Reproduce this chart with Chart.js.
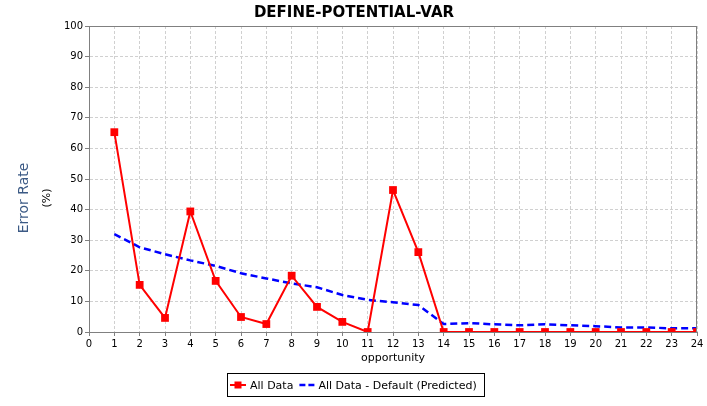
<!DOCTYPE html>
<html><head><meta charset="utf-8">
<style>html,body{margin:0;padding:0;background:#fff;}#wrap{width:707px;height:406px;position:relative;}</style>
<script src="https://cdn.jsdelivr.net/npm/chart.js@4"></script>
</head><body><div id="wrap"><canvas id="c" width="707" height="406"></canvas></div>
<script>
const chartTitle = "DEFINE-POTENTIAL-VAR";
const xTitle = "opportunity";
const yTitle = "Error Rate";
const yUnit = "(%)";
const opportunities = [1,2,3,4,5,6,7,8,9,10,11,12,13,14,15,16,17,18,19,20,21,22,23,24];
const allData = [65.3,15.4,4.6,39.4,16.7,4.9,2.6,18.4,8.2,3.3,0,46.4,26.1,0,0,0,0,0,0,0,0,0,0,0];
const predicted = [32.0,27.7,25.4,23.4,21.6,19.2,17.5,15.9,14.6,12.1,10.5,9.7,8.8,2.6,2.9,2.5,2.2,2.5,2.2,1.9,1.5,1.5,1.2,1.2];
const seriesNames = ["All Data", "All Data - Default (Predicted)"];

const FONT = "'DejaVu Sans', sans-serif";

const decor = {
  id: 'decor',
  afterDraw(chart) {
    const ctx = chart.ctx, a = chart.chartArea;
    ctx.save();
    // plot outline
    ctx.setLineDash([]);
    ctx.strokeStyle = '#808080'; ctx.lineWidth = 1;
    ctx.strokeRect(Math.round(a.left)+0.5, Math.round(a.top)+0.5, Math.round(a.right-a.left)-1, Math.round(a.bottom-a.top));
    // title
    ctx.fillStyle = '#000'; ctx.font = "bold 15px " + FONT;
    ctx.textAlign = 'center'; ctx.textBaseline = 'middle';
    ctx.fillText(chartTitle, 354, 13);
    // x axis title
    ctx.font = "11px " + FONT;
    ctx.fillText(xTitle, (a.left + a.right)/2, 358);
    // y axis titles
    ctx.save();
    ctx.translate(24, 198); ctx.rotate(-Math.PI/2);
    ctx.fillStyle = '#3c5a85'; ctx.font = "14px " + FONT;
    ctx.fillText(yTitle, 0, 0);
    ctx.restore();
    ctx.save();
    ctx.translate(47, 198); ctx.rotate(-Math.PI/2);
    ctx.fillStyle = '#000'; ctx.font = "11px " + FONT;
    ctx.fillText(yUnit, 0, 0);
    ctx.restore();
    // legend
    ctx.font = "11px " + FONT; ctx.textAlign = 'left';
    const w1 = ctx.measureText(seriesNames[0]).width;
    const w2 = ctx.measureText(seriesNames[1]).width;
    const total = 3 + 16 + 4 + w1 + 6 + 15 + 4 + w2 + 7;
    const lx = Math.round(355.5 - total/2), ly = 373, lh = 23;
    ctx.strokeStyle = '#000'; ctx.lineWidth = 1;
    ctx.strokeRect(lx+0.5, ly+0.5, Math.round(total), lh);
    const cy = ly + lh/2 + 0.5;
    let x = lx + 3;
    ctx.strokeStyle = '#ff0000'; ctx.lineWidth = 2;
    ctx.beginPath(); ctx.moveTo(x, cy); ctx.lineTo(x+16, cy); ctx.stroke();
    ctx.fillStyle = '#ff0000'; ctx.fillRect(x + 8 - 3.5, cy - 3.5, 7, 7);
    x += 16 + 4;
    ctx.fillStyle = '#000'; ctx.fillText(seriesNames[0], x, cy+1);
    x += w1 + 6;
    ctx.strokeStyle = '#0000ff'; ctx.lineWidth = 2.5; ctx.setLineDash([6,3]);
    ctx.beginPath(); ctx.moveTo(x, cy); ctx.lineTo(x+15, cy); ctx.stroke();
    ctx.setLineDash([]);
    x += 15 + 4;
    ctx.fillStyle = '#000'; ctx.fillText(seriesNames[1], x, cy+1);
    ctx.restore();
  }
};

new Chart(document.getElementById('c'), {
  type: 'line',
  data: {
    datasets: [
      {
        label: seriesNames[0],
        data: opportunities.map((o,i)=>({x:o, y:allData[i]})),
        borderColor: '#ff0000', backgroundColor: '#ff0000',
        borderWidth: 2, pointStyle: 'rect', pointRadius: 5.5, pointHoverRadius: 5.5,
        pointBorderWidth: 0, tension: 0, fill: false
      },
      {
        label: seriesNames[1],
        data: opportunities.map((o,i)=>({x:o, y:predicted[i]})),
        borderColor: '#0000ff', backgroundColor: '#0000ff',
        borderWidth: 2.5, borderDash: [7,4], pointRadius: 0, tension: 0, fill: false
      }
    ]
  },
  options: {
    responsive: false, animation: false, devicePixelRatio: 1,
    layout: { padding: { left: 0, right: 10, top: 26, bottom: 0 } },
    plugins: { legend: { display: false }, title: { display: false }, tooltip: { enabled: false } },
    scales: {
      x: {
        type: 'linear', min: 0, max: 24,
        afterFit(s) { s.height = 74; },
        ticks: { stepSize: 1, color: '#000', font: { family: FONT, size: 10 }, padding: 2, maxRotation: 0, autoSkip: false },
        grid: { color: '#d0d0d0', lineWidth: 1, drawTicks: true, tickLength: 4, tickColor: '#808080', tickBorderDash: [] },
        border: { display: true, color: '#808080', width: 1, dash: [3,2] }
      },
      y: {
        min: 0, max: 100,
        afterFit(s) { s.width = 89; },
        ticks: { stepSize: 10, color: '#000', font: { family: FONT, size: 10 }, padding: 2 },
        grid: { color: '#d0d0d0', lineWidth: 1, drawTicks: true, tickLength: 4, tickColor: '#808080', tickBorderDash: [] },
        border: { display: true, color: '#808080', width: 1, dash: [3,2] }
      }
    }
  },
  plugins: [decor]
});
</script></body></html>
